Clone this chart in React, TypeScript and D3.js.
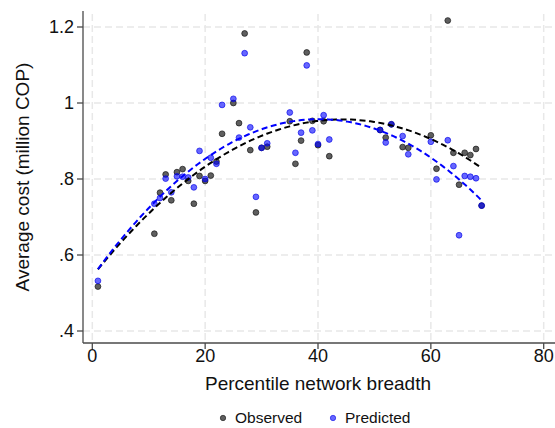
import React from "react";
import * as d3 from "d3";

// Percentile network breadth (x) shared by both series
const percentile = [1, 11, 12, 13, 14, 15, 16, 17, 18, 19, 20, 21, 22, 23, 25, 26, 27, 28, 29, 30, 31, 35, 36, 37, 38, 39, 40, 41, 42, 51, 52, 53, 55, 56, 60, 61, 63, 64, 65, 66, 67, 68, 69];
const observed = [0.517, 0.656, 0.764, 0.812, 0.744, 0.818, 0.826, 0.795, 0.735, 0.808, 0.795, 0.809, 0.846, 0.919, 1.0, 0.947, 1.183, 0.876, 0.712, 0.882, 0.885, 0.952, 0.84, 0.901, 1.133, 0.953, 0.889, 0.952, 0.86, 0.929, 0.909, 0.944, 0.884, 0.882, 0.915, 0.827, 1.217, 0.869, 0.785, 0.869, 0.863, 0.879, 0.73];
const predicted = [0.532, 0.735, 0.75, 0.801, 0.765, 0.807, 0.806, 0.804, 0.778, 0.874, 0.8, 0.856, 0.84, 0.995, 1.011, 0.909, 1.131, 0.936, 0.753, 0.882, 0.894, 0.975, 0.869, 0.922, 1.099, 0.928, 0.892, 0.968, 0.904, 0.929, 0.896, 0.944, 0.913, 0.865, 0.898, 0.799, 0.902, 0.834, 0.652, 0.808, 0.806, 0.802, 0.73];

const xTicks = [0, 20, 40, 60, 80];
const yTicks = [0.4, 0.6, 0.8, 1.0, 1.2];
const yTickLabels = [".4", ".6", ".8", "1", "1.2"];
const seriesNames = ["Observed", "Predicted"];

// quadratic least squares fit (like Stata qfit)
function qfit(xs: number[], ys: number[]) {
  const n = xs.length;
  let s = [0, 0, 0, 0, 0];
  let t = [0, 0, 0];
  for (let i = 0; i < n; i++) {
    const x = xs[i], y = ys[i];
    for (let k = 0; k < 5; k++) s[k] += Math.pow(x, k);
    for (let k = 0; k < 3; k++) t[k] += y * Math.pow(x, k);
  }
  const A = [
    [s[0], s[1], s[2], t[0]],
    [s[1], s[2], s[3], t[1]],
    [s[2], s[3], s[4], t[2]],
  ];
  for (let i = 0; i < 3; i++) {
    let p = i;
    for (let r = i + 1; r < 3; r++) if (Math.abs(A[r][i]) > Math.abs(A[p][i])) p = r;
    [A[i], A[p]] = [A[p], A[i]];
    for (let r = 0; r < 3; r++) {
      if (r === i) continue;
      const f = A[r][i] / A[i][i];
      for (let c = i; c < 4; c++) A[r][c] -= f * A[i][c];
    }
  }
  const b = [A[0][3] / A[0][0], A[1][3] / A[1][1], A[2][3] / A[2][2]];
  return (x: number) => b[0] + b[1] * x + b[2] * x * x;
}

export default function App() {
  const W = 555, H = 428;
  const x = d3.scaleLinear().domain([0, 80]).range([92.3, 543.7]);
  const y = d3.scaleLinear().domain([0.4, 1.2]).range([331, 27]);
  const left = 83, top = 11, bottom = 343, right = 555;
  const font = "'Liberation Sans', Arial, Helvetica, sans-serif";

  const xmin = d3.min(percentile)!, xmax = d3.max(percentile)!;
  const grid = d3.range(0, 101).map((i) => xmin + ((xmax - xmin) * i) / 100);
  const fObs = qfit(percentile, observed);
  const fPred = qfit(percentile, predicted);
  const line = d3.line<number>().x((d) => x(d));
  const obsPath = line.y((d) => y(fObs(d)))(grid)!;
  const predPath = d3.line<number>().x((d) => x(d)).y((d) => y(fPred(d)))(grid)!;

  const gridColor = "#e8e8e8";
  const axisColor = "#4a4a4a";

  return (
    <div style={{ position: "fixed", left: 0, top: 0, width: W, height: H, background: "#fff" }}>
      <svg width={W} height={H} style={{ display: "block" }} fontFamily={font}>
        <rect x={0} y={0} width={W} height={H} fill="#fff" />
        {/* gridlines */}
        {yTicks.map((t) => (
          <line key={"gy" + t} x1={left} x2={right} y1={y(t)} y2={y(t)} stroke={gridColor} strokeWidth={1.5} strokeDasharray="7,4" />
        ))}
        {xTicks.map((t) => (
          <line key={"gx" + t} x1={x(t)} x2={x(t)} y1={top + 3} y2={bottom} stroke={gridColor} strokeWidth={1.5} strokeDasharray="7,4" />
        ))}
        {/* axes */}
        <line x1={left} x2={left} y1={top} y2={bottom} stroke={axisColor} strokeWidth={1.3} />
        <line x1={left} x2={right} y1={bottom} y2={bottom} stroke={axisColor} strokeWidth={1.3} />
        {yTicks.map((t, i) => (
          <g key={"ty" + t}>
            <line x1={left - 6} x2={left} y1={y(t)} y2={y(t)} stroke={axisColor} strokeWidth={1.3} />
            <text x={left - 9} y={y(t)} dy="0.35em" textAnchor="end" fontSize={18} fill="#111">
              {yTickLabels[i]}
            </text>
          </g>
        ))}
        {xTicks.map((t) => (
          <g key={"tx" + t}>
            <line x1={x(t)} x2={x(t)} y1={bottom} y2={bottom + 6} stroke={axisColor} strokeWidth={1.3} />
            <text x={x(t)} y={bottom + 19} textAnchor="middle" fontSize={18} fill="#111">
              {t}
            </text>
          </g>
        ))}
        {/* titles */}
        <text x={x(40)} y={390} textAnchor="middle" fontSize={19} fill="#111">
          Percentile network breadth
        </text>
        <text transform={`translate(29,${(top + bottom) / 2}) rotate(-90)`} textAnchor="middle" fontSize={19} fill="#111">
          Average cost (million COP)
        </text>
        {/* points */}
        {percentile.map((p, i) => (
          <circle key={"o" + i} cx={x(p)} cy={y(observed[i])} r={2.9} fill="rgba(55,55,55,0.8)" stroke="rgba(25,25,25,0.8)" strokeWidth={0.9} />
        ))}
        {percentile.map((p, i) => (
          <circle key={"p" + i} cx={x(p)} cy={y(predicted[i])} r={2.9} fill="rgba(0,0,255,0.6)" stroke="rgba(0,0,230,0.7)" strokeWidth={0.9} />
        ))}
        {/* fits */}
        <path d={obsPath} fill="none" stroke="#000" strokeWidth={2} strokeDasharray="6,3.5" />
        <path d={predPath} fill="none" stroke="#0000ff" strokeWidth={2} strokeDasharray="6,3.5" />
        {/* legend */}
        <circle cx={223} cy={418} r={2.7} fill="rgba(55,55,55,0.8)" stroke="rgba(25,25,25,0.8)" strokeWidth={0.8} />
        <text x={235} y={418} dy="0.35em" fontSize={15.5} fill="#111">{seriesNames[0]}</text>
        <circle cx={333} cy={418} r={2.7} fill="rgba(0,0,255,0.6)" stroke="rgba(0,0,230,0.7)" strokeWidth={0.8} />
        <text x={345} y={418} dy="0.35em" fontSize={15.5} fill="#111">{seriesNames[1]}</text>
      </svg>
    </div>
  );
}
